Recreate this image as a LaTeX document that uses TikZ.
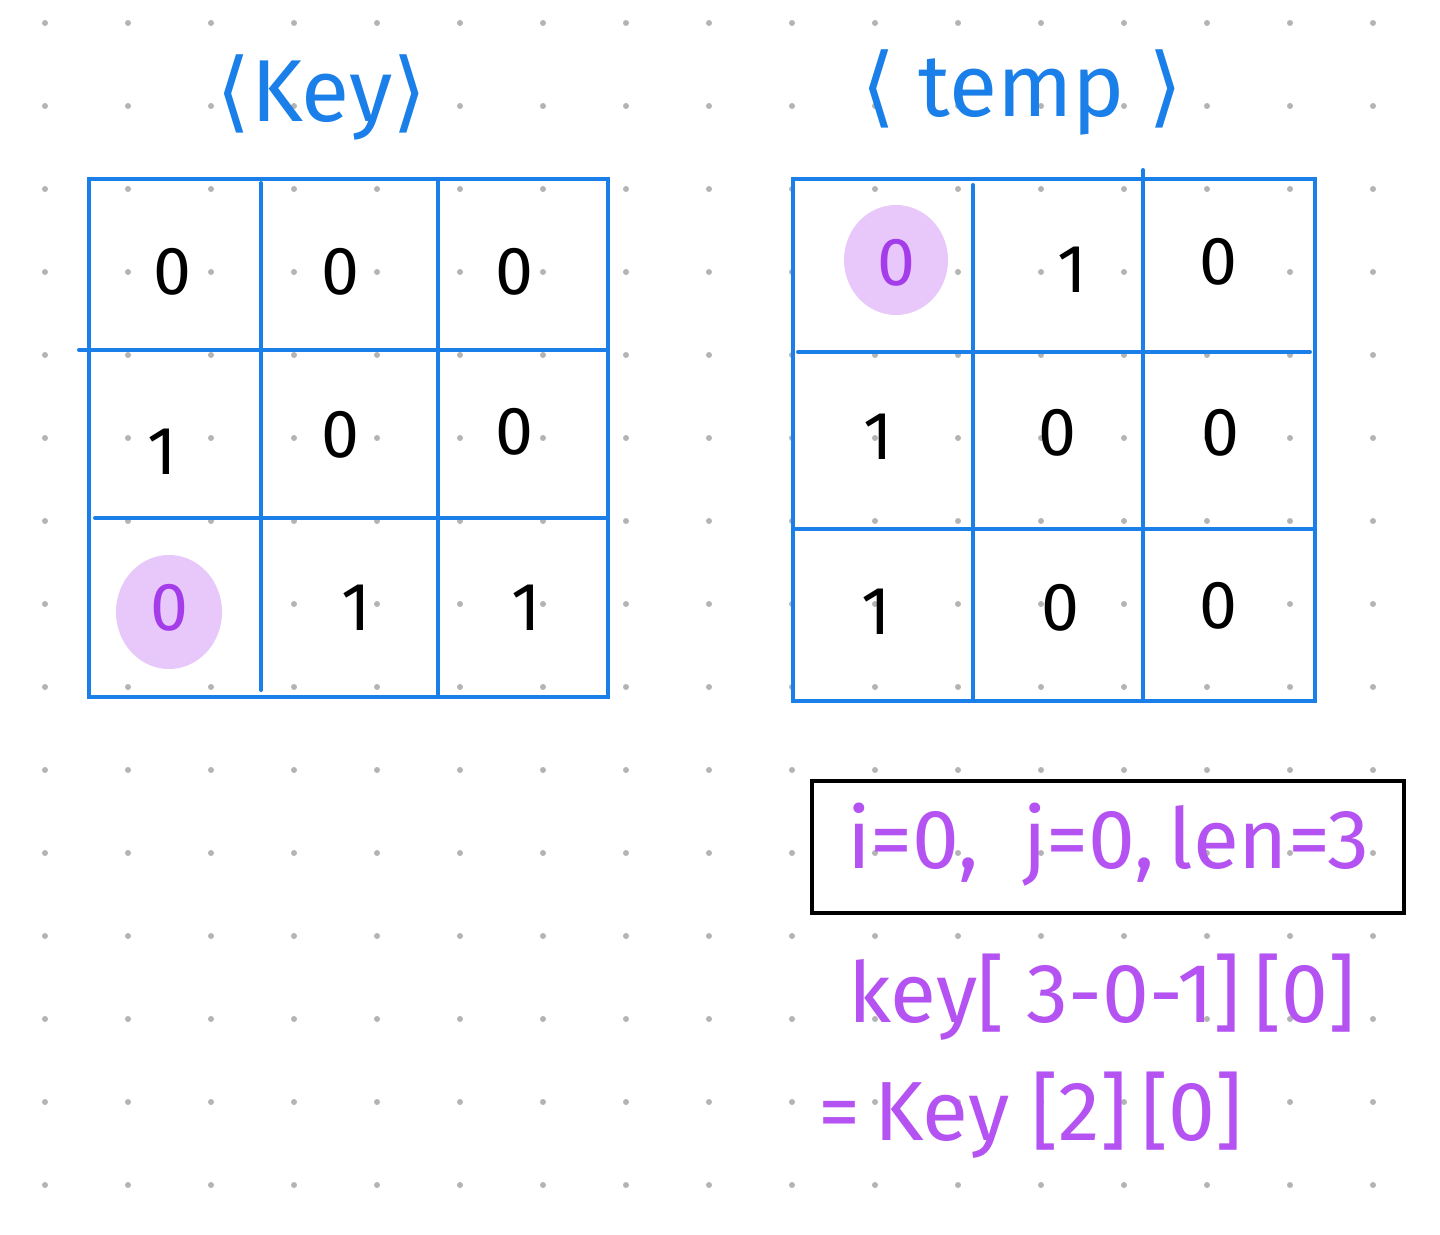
\documentclass[tikz,border=0pt]{standalone}
\usepackage{fontspec}
\setmainfont{Fira Sans}
\newfontfamily\brackfont{DejaVu Sans}
\usetikzlibrary{positioning}

\definecolor{keyblue}{HTML}{1A7FE8}
\definecolor{penpurple}{HTML}{B452F2}
\definecolor{hlpurple}{HTML}{A43CEA}
\definecolor{hlfill}{HTML}{E8C8FB}
\definecolor{dotgray}{HTML}{B4B4B4}

\newcommand{\lbr}{{\brackfont\char"27E8}}
\newcommand{\rbr}{{\brackfont\char"27E9}}

\begin{document}
\begin{tikzpicture}[
    x=0.5pt, y=-0.5pt,
    gridline/.style={line width=2pt, draw=keyblue, line cap=round},
    cellnum/.style={font=\fontsize{34}{36}\selectfont, text=black},
    hlnum/.style={cellnum, text=hlpurple},
    hlblob/.style={fill=hlfill},
    titletext/.style={font=\fontsize{44}{46}\selectfont, text=keyblue},
    formula/.style={font=\fontsize{42}{44}\selectfont, text=penpurple, inner sep=0pt},
    lenbox/.style={draw=black, line width=2pt, minimum width=296pt, minimum height=66pt}
]
% paper and dot grid
\fill[white] (0,0) rectangle (1440,1235);
\useasboundingbox (0,0) rectangle (1440,1235);
\foreach \i in {0,...,16}
  \foreach \j in {0,...,14}
    \fill[dotgray] (45+83*\i,23+83*\j) circle [radius=3];

% titles
\node[titletext] (keytitle) at (322,97) {\lbr Key\rbr};
\node[titletext] (temptitle) at (1022,92) {\lbr\ temp\ \rbr};

% key grid
\fill[hlblob] (169,612) ellipse [x radius=53, y radius=57];
\draw[gridline] (89,179) rectangle (608,697);
\draw[gridline] (261,183) -- (261,690);
\draw[gridline] (438,179) -- (438,697);
\draw[gridline] (79,350) -- (606,350);
\draw[gridline] (95,518) -- (606,518);

\node[cellnum] (k11) at (172,272) {0};
\node[cellnum] (k12) at (340,272) {0};
\node[cellnum] (k13) at (514,272) {0};
\node[cellnum] (k21) at (162,452) {1};
\node[cellnum] (k22) at (340,435) {0};
\node[cellnum] (k23) at (514,432) {0};
\node[hlnum]   (k31) at (169,608) {0};
\node[cellnum] (k32) at (356,608) {1};
\node[cellnum] (k33) at (526,608) {1};

% temp grid
\fill[hlblob] (896,260) ellipse [x radius=52, y radius=55];
\draw[gridline] (793,179) rectangle (1315,701);
\draw[gridline] (973,185) -- (973,699);
\draw[gridline] (1143,170) -- (1143,699);
\draw[gridline] (798,352) -- (1310,352);
\draw[gridline] (795,529) -- (1313,529);

\node[hlnum]   (t11) at (896,263) {0};
\node[cellnum] (t12) at (1072,270) {1};
\node[cellnum] (t13) at (1218,262) {0};
\node[cellnum] (t21) at (878,437) {1};
\node[cellnum] (t22) at (1057,433) {0};
\node[cellnum] (t23) at (1220,433) {0};
\node[cellnum] (t31) at (876,612) {1};
\node[cellnum] (t32) at (1060,608) {0};
\node[cellnum] (t33) at (1218,606) {0};

% index calculation
\node[lenbox] (lens) at (1108,847) {};
\node[formula] (ij) at (1108,845) {i=0,\ \ j=0,\,len=3};
\node[formula, anchor=west] (idx) at (848,997) {key[ 3-0-1]\,[0]};
\node[formula, anchor=west] (res) at (818,1115) {=\,Key [2]\,[0]};
\end{tikzpicture}
\end{document}
